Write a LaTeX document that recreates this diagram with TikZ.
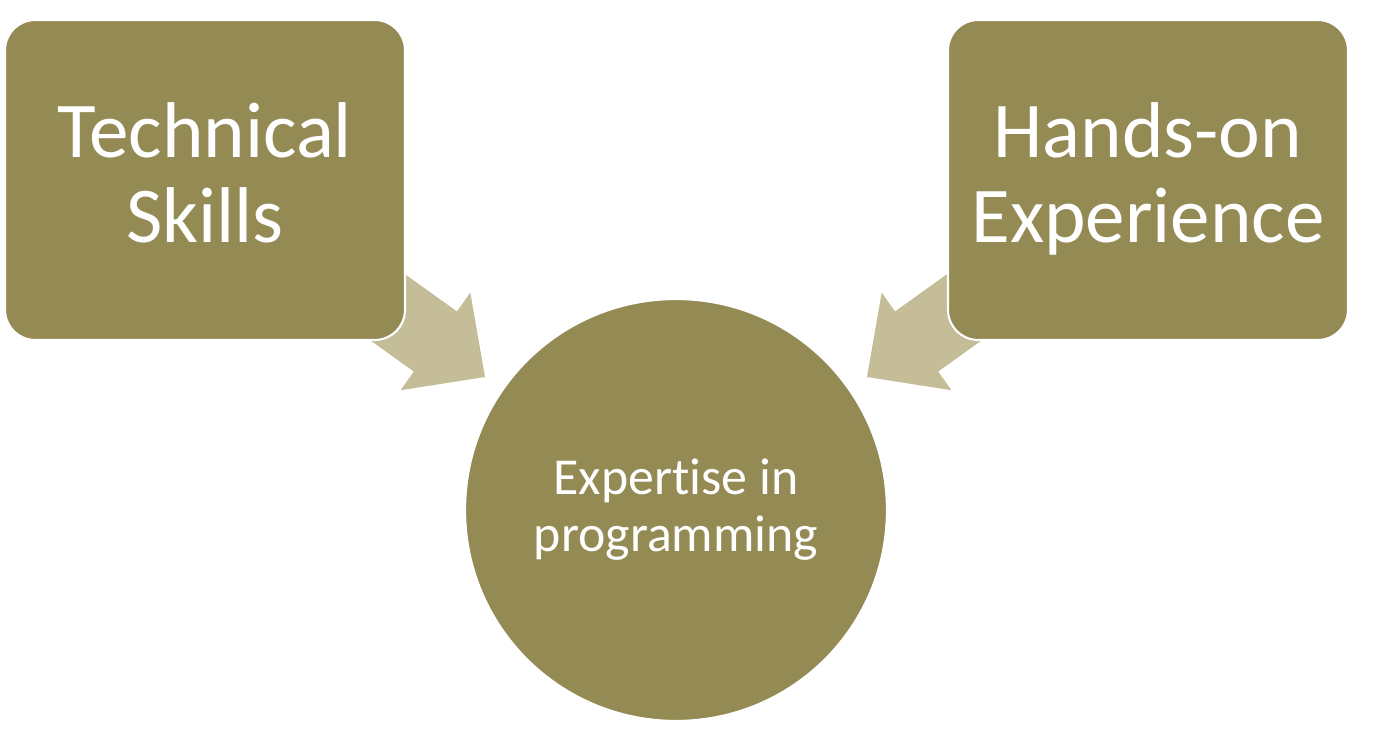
\documentclass[tikz,border=0pt]{standalone}
\usepackage{fontspec}
\setmainfont[Ligatures=NoCommon]{Carlito}
\definecolor{olive}{HTML}{948A54}
\definecolor{tan}{HTML}{C4BD97}
\tikzset{
  box/.style={rectangle, rounded corners=0.6cm, fill=olive, draw=white, line width=1.2pt,
    minimum width=8cm, minimum height=6.4cm, text=white, align=center, text depth=0.3cm,
    font=\fontsize{45}{48}\selectfont},
  goal/.style={circle, fill=olive, draw=white, line width=1.2pt, minimum size=8.44cm,
    text=white, align=center, font=\fontsize{29.5}{32.5}\selectfont},
}
\begin{document}
\begin{tikzpicture}[x=0.02cm, y=-0.02cm]
\useasboundingbox (0,0) rectangle (1374,742);

% tips of the two block arrows
\coordinate (tipL) at (485,377);
\coordinate (tipR) at (867,377);
\foreach \tip/\ang in {tipL/-35.6, tipR/-144.4}
{
    \begin{scope}[shift={(\tip)}, rotate=\ang]
    \fill[tan] (0,0)--(-61,60)--(-61,37)--(-170,37)--(-170,-37)--(-61,-37)--(-61,-60)--cycle;
    \end{scope}
}

\node[box] (tech) at (205,180) {Technical\\Skills};
\node[box] (hands) at (1148,180) {Hands-on\\Experience};
\node[goal] (expert) at (676,510) {Expertise in\\programming};
\end{tikzpicture}
\end{document}
